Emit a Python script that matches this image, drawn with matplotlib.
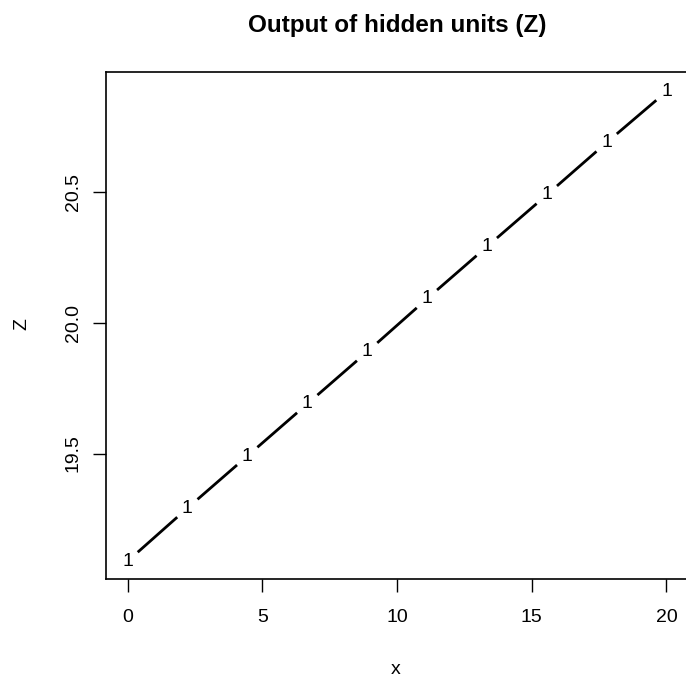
import matplotlib
matplotlib.use("Agg")
import matplotlib.pyplot as plt

plt.rcParams['font.family'] = ['Liberation Sans', 'DejaVu Sans']

# values (one hidden unit, labelled "1")
x_vals = [0.0, 2.22, 4.44, 6.67, 8.89, 11.11, 13.33, 15.56, 17.78, 20.0]
z_vals = [19.088, 19.291, 19.490, 19.690, 19.889, 20.092, 20.291, 20.490, 20.690, 20.885]
x_ticks = [0, 5, 10, 15, 20]
y_ticks = [19.5, 20.0, 20.5]
y_ticklabels = ["19.5", "20.0", "20.5"]

W, H = 686, 677
fig = plt.figure(figsize=(W / 100, H / 100), dpi=100)
ax = fig.add_axes([106 / W, 1 - 579 / H, (688 - 106) / W, (579 - 72) / H])

# R type="b": segments with a gap round each point label
gap = 0.17
for i in range(len(x_vals) - 1):
    x0, x1 = x_vals[i], x_vals[i + 1]
    y0, y1 = z_vals[i], z_vals[i + 1]
    dx, dy = x1 - x0, y1 - y0
    ax.plot([x0 + gap * dx, x1 - gap * dx], [y0 + gap * dy, y1 - gap * dy],
            color="black", lw=2.0, solid_capstyle="butt")
for xv, zv in zip(x_vals, z_vals):
    ax.text(xv, zv, "1", ha="center", va="center", fontsize=14, color="black")

ax.set_xlim(-0.8, 20.8)
ax.set_ylim(19.02, 20.96)
ax.set_xticks(x_ticks)
ax.set_yticks(y_ticks)
ax.set_yticklabels(y_ticklabels, rotation=90, va="center")
ax.tick_params(axis="both", length=9.4, width=1.0, labelsize=14, colors="black")
ax.tick_params(axis="x", pad=12)
ax.tick_params(axis="y", pad=8)
for s in ax.spines.values():
    s.set_linewidth(1.2)
ax.grid(False)

fig.text(397 / W, 1 - 32 / H, "Output of hidden units (Z)", ha="center", va="baseline",
         fontsize=17.5, fontweight="bold")
fig.text(396 / W, 1 - 670 / H, "x", ha="center", va="center", fontsize=14)
fig.text(22 / W, 1 - 324 / H, "Z", ha="center", va="center", fontsize=14, rotation=90)

fig.savefig("out.png", dpi=100)
